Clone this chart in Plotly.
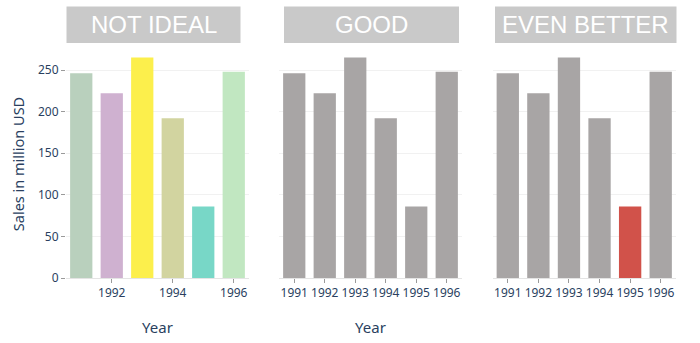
import plotly.graph_objects as go

years = [1991, 1992, 1993, 1994, 1995, 1996]
sales = [246, 222, 265, 192, 86, 248]
panel_titles = ["NOT IDEAL", "GOOD", "EVEN BETTER"]
colors_not_ideal = ["#b9d0bd", "#cfb1d0", "#fcef4c", "#d2d4a0", "#78d7c7", "#c1e7c1"]
colors_good = ["#a8a5a5"] * 6
colors_better = ["#a8a5a5", "#a8a5a5", "#a8a5a5", "#a8a5a5", "#d1524a", "#a8a5a5"]

W, H = 700, 343
FONT = "Noto Sans"
TXT = "#2a3f5f"

# panel pixel layout
x_dom_px = [(66, 249), (279, 462), (492.5, 676)]
y_bottom, y_top = 278, 50
y_range = [0, (y_bottom - y_top) / 0.832]
box_px = [(66.5, 240.5), (284, 459), (495, 676.5)]
box_y = (6.5, 43)

fig = go.Figure()
all_colors = [colors_not_ideal, colors_good, colors_better]
for i in range(3):
    sfx = "" if i == 0 else str(i + 1)
    fig.add_trace(go.Bar(x=years, y=sales, marker=dict(color=all_colors[i], line=dict(width=0)),
                         xaxis="x" + sfx, yaxis="y" + sfx, showlegend=False))

layout = dict(
    width=W, height=H, margin=dict(l=0, r=0, t=0, b=0),
    paper_bgcolor="white", plot_bgcolor="white", bargap=0.27,
    font=dict(family=FONT, color=TXT, size=12),
)
ydom = [(H - y_bottom) / H, (H - y_top) / H]
for i in range(3):
    sfx = "" if i == 0 else str(i + 1)
    xd = [x_dom_px[i][0] / W, x_dom_px[i][1] / W]
    layout["xaxis" + sfx] = dict(
        domain=xd, anchor="y" + sfx, range=[1990.5, 1996.5],
        tickmode="linear", tick0=1990 if i == 0 else 1991, dtick=2 if i == 0 else 1,
        ticks="outside", ticklen=4, tickcolor="#9a9a9a", showgrid=False,
        showline=True, linecolor="#e4e4e4", linewidth=1, zeroline=False,
        tickfont=dict(size=12, family=FONT, color=TXT), automargin=False,
        title=dict(text="Year" if i < 2 else "", font=dict(size=15, family=FONT, color=TXT), standoff=22),
    )
    layout["yaxis" + sfx] = dict(
        domain=ydom, anchor="x" + sfx, range=y_range, tickvals=[0, 50, 100, 150, 200, 250],
        showticklabels=(i == 0), ticks="outside" if i == 0 else "", ticklen=4, tickcolor="#9a9a9a",
        showgrid=True, gridcolor="#f1f1f1", zeroline=False, showline=False, automargin=False,
        tickfont=dict(size=12, family=FONT, color=TXT),
        title=dict(text="Sales in million USD" if i == 0 else "", font=dict(size=14.5, family=FONT, color=TXT), standoff=9),
    )

shapes = []
annotations = []
for i in range(3):
    x0, x1 = box_px[i]
    shapes.append(dict(type="rect", xref="paper", yref="paper",
                       x0=x0 / W, x1=x1 / W, y0=(H - box_y[1]) / H, y1=(H - box_y[0]) / H,
                       fillcolor="#c9c9c9", line=dict(width=0), layer="below"))
    annotations.append(dict(text=panel_titles[i], xref="paper", yref="paper",
                            x=(x0 + x1) / 2 / W, y=(H - (box_y[0] + box_y[1]) / 2) / H,
                            xanchor="center", yanchor="middle", showarrow=False,
                            font=dict(family="Liberation Sans", size=24, color="white")))
layout["shapes"] = shapes
layout["annotations"] = annotations
fig.update_layout(**layout)
fig.write_html("out.html")
